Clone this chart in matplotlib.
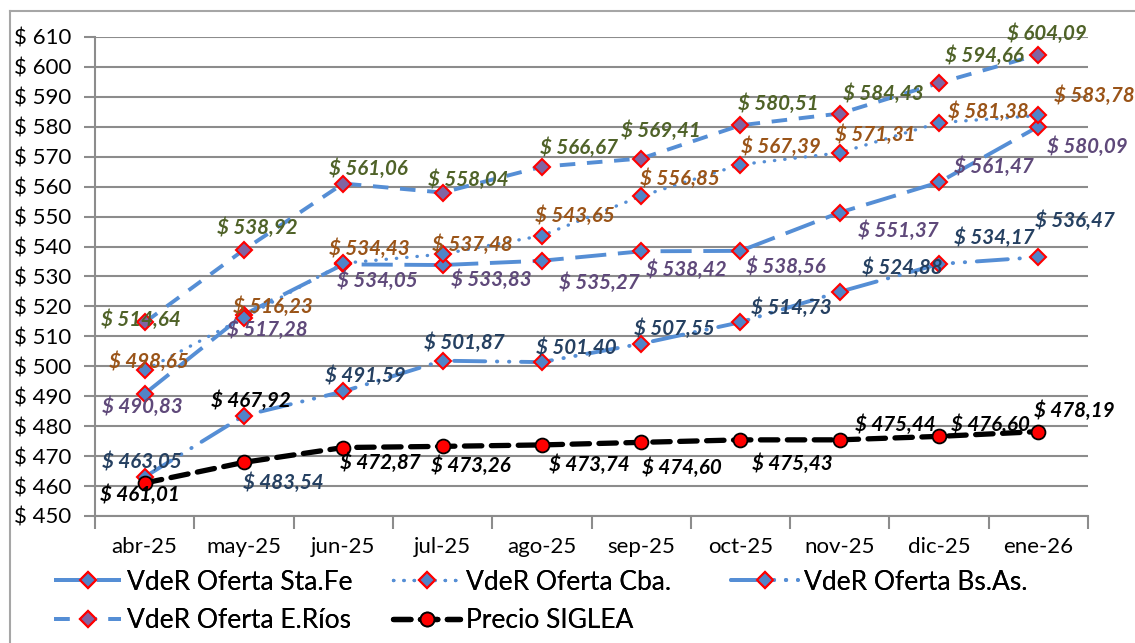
import matplotlib
matplotlib.use("Agg")
import matplotlib.pyplot as plt
from matplotlib.lines import Line2D
import numpy as np

months = ["abr-25", "may-25", "jun-25", "jul-25", "ago-25", "sep-25", "oct-25", "nov-25", "dic-25", "ene-26"]
sta_fe = [490.83, 517.28, 534.05, 533.83, 535.27, 538.42, 538.56, 551.37, 561.47, 580.09]
cba = [498.65, 516.23, 534.43, 537.48, 543.65, 556.85, 567.39, 571.31, 581.38, 583.78]
bs_as = [463.05, 483.54, 491.59, 501.87, 501.40, 507.55, 514.73, 524.88, 534.17, 536.47]
e_rios = [514.64, 538.92, 561.06, 558.04, 566.67, 569.41, 580.51, 584.43, 594.66, 604.09]
siglea = [461.01, 467.92, 472.87, 473.26, 473.74, 474.60, 475.43, 475.44, 476.60, 478.19]
yticks = list(range(450, 611, 10))

# label offsets in pixels (dx, dy up)
off_sta = [(-2, -13), (23, -15), (34, -16), (49, -15), (57, -22), (45, -18), (45, -16), (59, -18), (55, 16), (49, -20)]
off_cba = [(4, 9), (29, 11), (26, 15), (30, 9), (33, 20), (39, 17), (40, 18), (36, 18), (49, 11), (56, 20)]
off_bs = [(-3, 15), (39, -67), (22, 16), (22, 18), (34, 14), (33, 15), (51, 15), (63, 24), (55, 26), (37, 36)]
off_er = [(-4, 3), (13, 22), (25, 15), (26, 13), (37, 19), (20, 28), (38, 22), (44, 20), (45, 27), (9, 21)]
off_sg = [(-5, -12), (7, 62), (37, -15), (28, -19), (47, -20), (41, -25), (52, -24), (56, 15), (51, 12), (36, 21)]

FONT = ["Lato", "DejaVu Sans"]
plt.rcParams["font.family"] = FONT

W, H = 1135, 643
fig = plt.figure(figsize=(W / 100, H / 100), dpi=100)
ax = fig.add_axes([95 / W, 1 - 516 / H, (1088 - 95) / W, (516 - 37) / H])

x = np.arange(len(months))
blue = "#558ED5"
lw = 2.8

l_sta, = ax.plot(x, sta_fe, color=blue, lw=lw, linestyle=(0, (8, 3)), marker="D", ms=8.5,
                 mfc="#5084C8", mec="red", mew=1.5, label="VdeR Oferta Sta.Fe", zorder=3)
l_cba, = ax.plot(x, cba, color=blue, lw=2.4, linestyle=(0, (0.1, 3)), dash_capstyle="round", marker="D", ms=8.5,
                 mfc="#5084C8", mec="red", mew=1.5, label="VdeR Oferta Cba.", zorder=3)
l_bs, = ax.plot(x, bs_as, color=blue, lw=lw, linestyle=(0, (8, 3, 0.1, 3, 0.1, 3)), dash_capstyle="round", marker="D", ms=8.5,
                mfc="#5084C8", mec="red", mew=1.5, label="VdeR Oferta Bs.As.", zorder=3)
l_er, = ax.plot(x, e_rios, color=blue, lw=lw, linestyle=(0, (4, 3)), marker="D", ms=8.5,
                mfc="#8064A2", mec="red", mew=1.5, label="VdeR Oferta E.Ríos", zorder=3)
l_sg, = ax.plot(x, siglea, color="black", lw=3.8, linestyle=(0, (3.3, 1.8)), dash_capstyle="round", marker="o", ms=10,
                mfc="red", mec="black", mew=1.3, label="Precio SIGLEA", zorder=4)

def labels(vals, offs, color):
    for i, (v, (dx, dy)) in enumerate(zip(vals, offs)):
        ax.annotate(f"$ {v:.2f}".replace(".", ","), (x[i], v), xytext=(dx, dy),
                    textcoords="offset pixels", ha="center", va="center", color=color,
                    fontsize=14.8, fontweight="bold", fontstyle="italic", zorder=6,
                    annotation_clip=False)

labels(e_rios, off_er, "#4F6228")
labels(cba, off_cba, "#9A5418")
labels(sta_fe, off_sta, "#5F497A")
labels(bs_as, off_bs, "#254061")
labels(siglea, off_sg, "black")

ax.set_xlim(-0.5, len(months) - 0.5)
ax.set_ylim(450, 610)
ax.set_yticks(yticks)
ax.set_yticklabels([f"$ {v}" for v in yticks], fontsize=16)
ax.set_xticks(np.arange(-0.5, len(months), 1))
ax.set_xticklabels([])
ax.set_xticks(x, minor=True)
ax.set_xticklabels(months, minor=True, fontsize=16)
ax.tick_params(axis="x", which="major", length=9, width=1.5, color="#8C8C8C", direction="out")
ax.tick_params(axis="x", which="minor", length=0, pad=15)
ax.tick_params(axis="y", length=8, width=1.5, color="#8C8C8C", direction="out", pad=9)
ax.grid(axis="y", color="#8C8C8C", lw=1.5)
ax.set_axisbelow(True)
for s in ["top", "right"]:
    ax.spines[s].set_visible(False)
for s in ["left", "bottom"]:
    ax.spines[s].set_color("#8C8C8C")
    ax.spines[s].set_linewidth(1.5)

# legend entries placed individually (handle start x, row y in pixels)
leg_pos = [(l_sta, 54, 582), (l_cba, 393, 582), (l_bs, 731, 582), (l_er, 54, 621), (l_sg, 393, 621)]
for h, px, py in leg_pos:
    lg = fig.legend(handles=[h], loc="center left", bbox_to_anchor=(px / W, 1 - py / H),
                    frameon=False, fontsize=19, numpoints=1, handlelength=2.55,
                    handletextpad=0.2, borderpad=0, borderaxespad=0)
    fig.add_artist(lg)

# outer frame
fig.add_artist(Line2D([10 / W, 10 / W], [0, 1 - 11 / H], color="#A6A6A6", lw=1.5, transform=fig.transFigure))
fig.add_artist(Line2D([10 / W, 1], [1 - 11 / H, 1 - 11 / H], color="#A6A6A6", lw=1.5, transform=fig.transFigure))

fig.savefig("out.png", dpi=100)
